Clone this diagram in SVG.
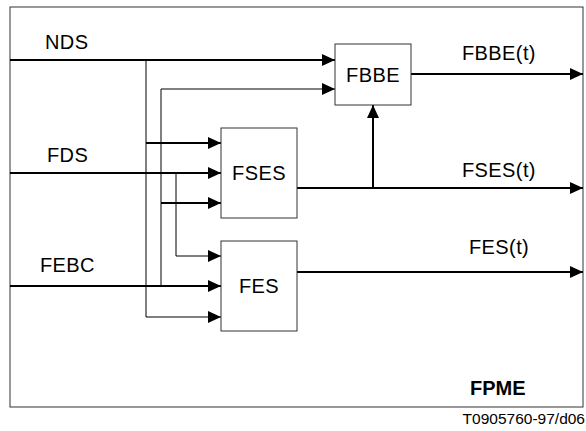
<svg xmlns="http://www.w3.org/2000/svg" width="586" height="431" viewBox="0 0 586 431">
<style>
  .t{font-family:"Liberation Sans",Arial,sans-serif;font-size:20px;letter-spacing:0.4px;fill:#000}
  .box{fill:#fff;stroke:#333;stroke-width:1}
  .thick{fill:none;stroke:#000;stroke-width:2}
  .thin{fill:none;stroke:#000;stroke-width:1}
</style>
<defs>
  <marker id="ah" markerUnits="userSpaceOnUse" markerWidth="13" markerHeight="12" refX="13" refY="6" orient="auto">
    <path d="M0,0 L13,6 L0,12 Z" fill="#000"/>
  </marker>
</defs>
<rect x="0" y="0" width="586" height="431" fill="#fff"/>
<rect id="frame" x="10" y="7" width="573" height="400" fill="none" stroke="#333" stroke-width="1"/>
<g id="connectors">
  <!-- NDS -->
  <path class="thick" d="M10,60 H335" marker-end="url(#ah)"/>
  <path class="thin" d="M146,60 V317"/>
  <path class="thick" d="M146,143 H221" marker-end="url(#ah)"/>
  <path class="thin" d="M146,317 H221" marker-end="url(#ah)"/>
  <!-- FDS -->
  <path class="thick" d="M10,173 H221" marker-end="url(#ah)"/>
  <path class="thin" d="M176,173 V256 H221" marker-end="url(#ah)"/>
  <!-- FEBC -->
  <path class="thick" d="M10,286 H221" marker-end="url(#ah)"/>
  <path class="thin" d="M161,286 V89 H335" marker-end="url(#ah)"/>
  <path class="thick" d="M161,203 H221" marker-end="url(#ah)"/>
  <!-- outputs -->
  <path class="thick" d="M411,74 H583" marker-end="url(#ah)"/>
  <path class="thick" d="M297,188 H583" marker-end="url(#ah)"/>
  <path class="thick" d="M373,188 V105" marker-end="url(#ah)"/>
  <path class="thick" d="M297,272 H583" marker-end="url(#ah)"/>
</g>
<g id="FBBE">
  <rect class="box" x="335" y="44" width="76" height="61"/>
  <text class="t" x="373" y="82" text-anchor="middle">FBBE</text>
</g>
<g id="FSES">
  <rect class="box" x="221" y="128" width="76" height="90"/>
  <text class="t" x="259" y="180" text-anchor="middle">FSES</text>
</g>
<g id="FES">
  <rect class="box" x="221" y="241" width="76" height="90"/>
  <text class="t" x="259" y="293" text-anchor="middle">FES</text>
</g>
<g id="labels">
  <text class="t" x="45" y="49">NDS</text>
  <text class="t" x="47" y="162">FDS</text>
  <text class="t" x="40" y="272">FEBC</text>
  <text class="t" x="462" y="60">FBBE(t)</text>
  <text class="t" x="462" y="177">FSES(t)</text>
  <text class="t" x="469" y="254">FES(t)</text>
  <text class="t" x="470" y="395" style="font-weight:bold;font-size:20px;letter-spacing:0">FPME</text>
  <text class="t" x="585" y="424" text-anchor="end" style="font-size:15.5px;letter-spacing:0">T0905760-97/d06</text>
</g>
</svg>
